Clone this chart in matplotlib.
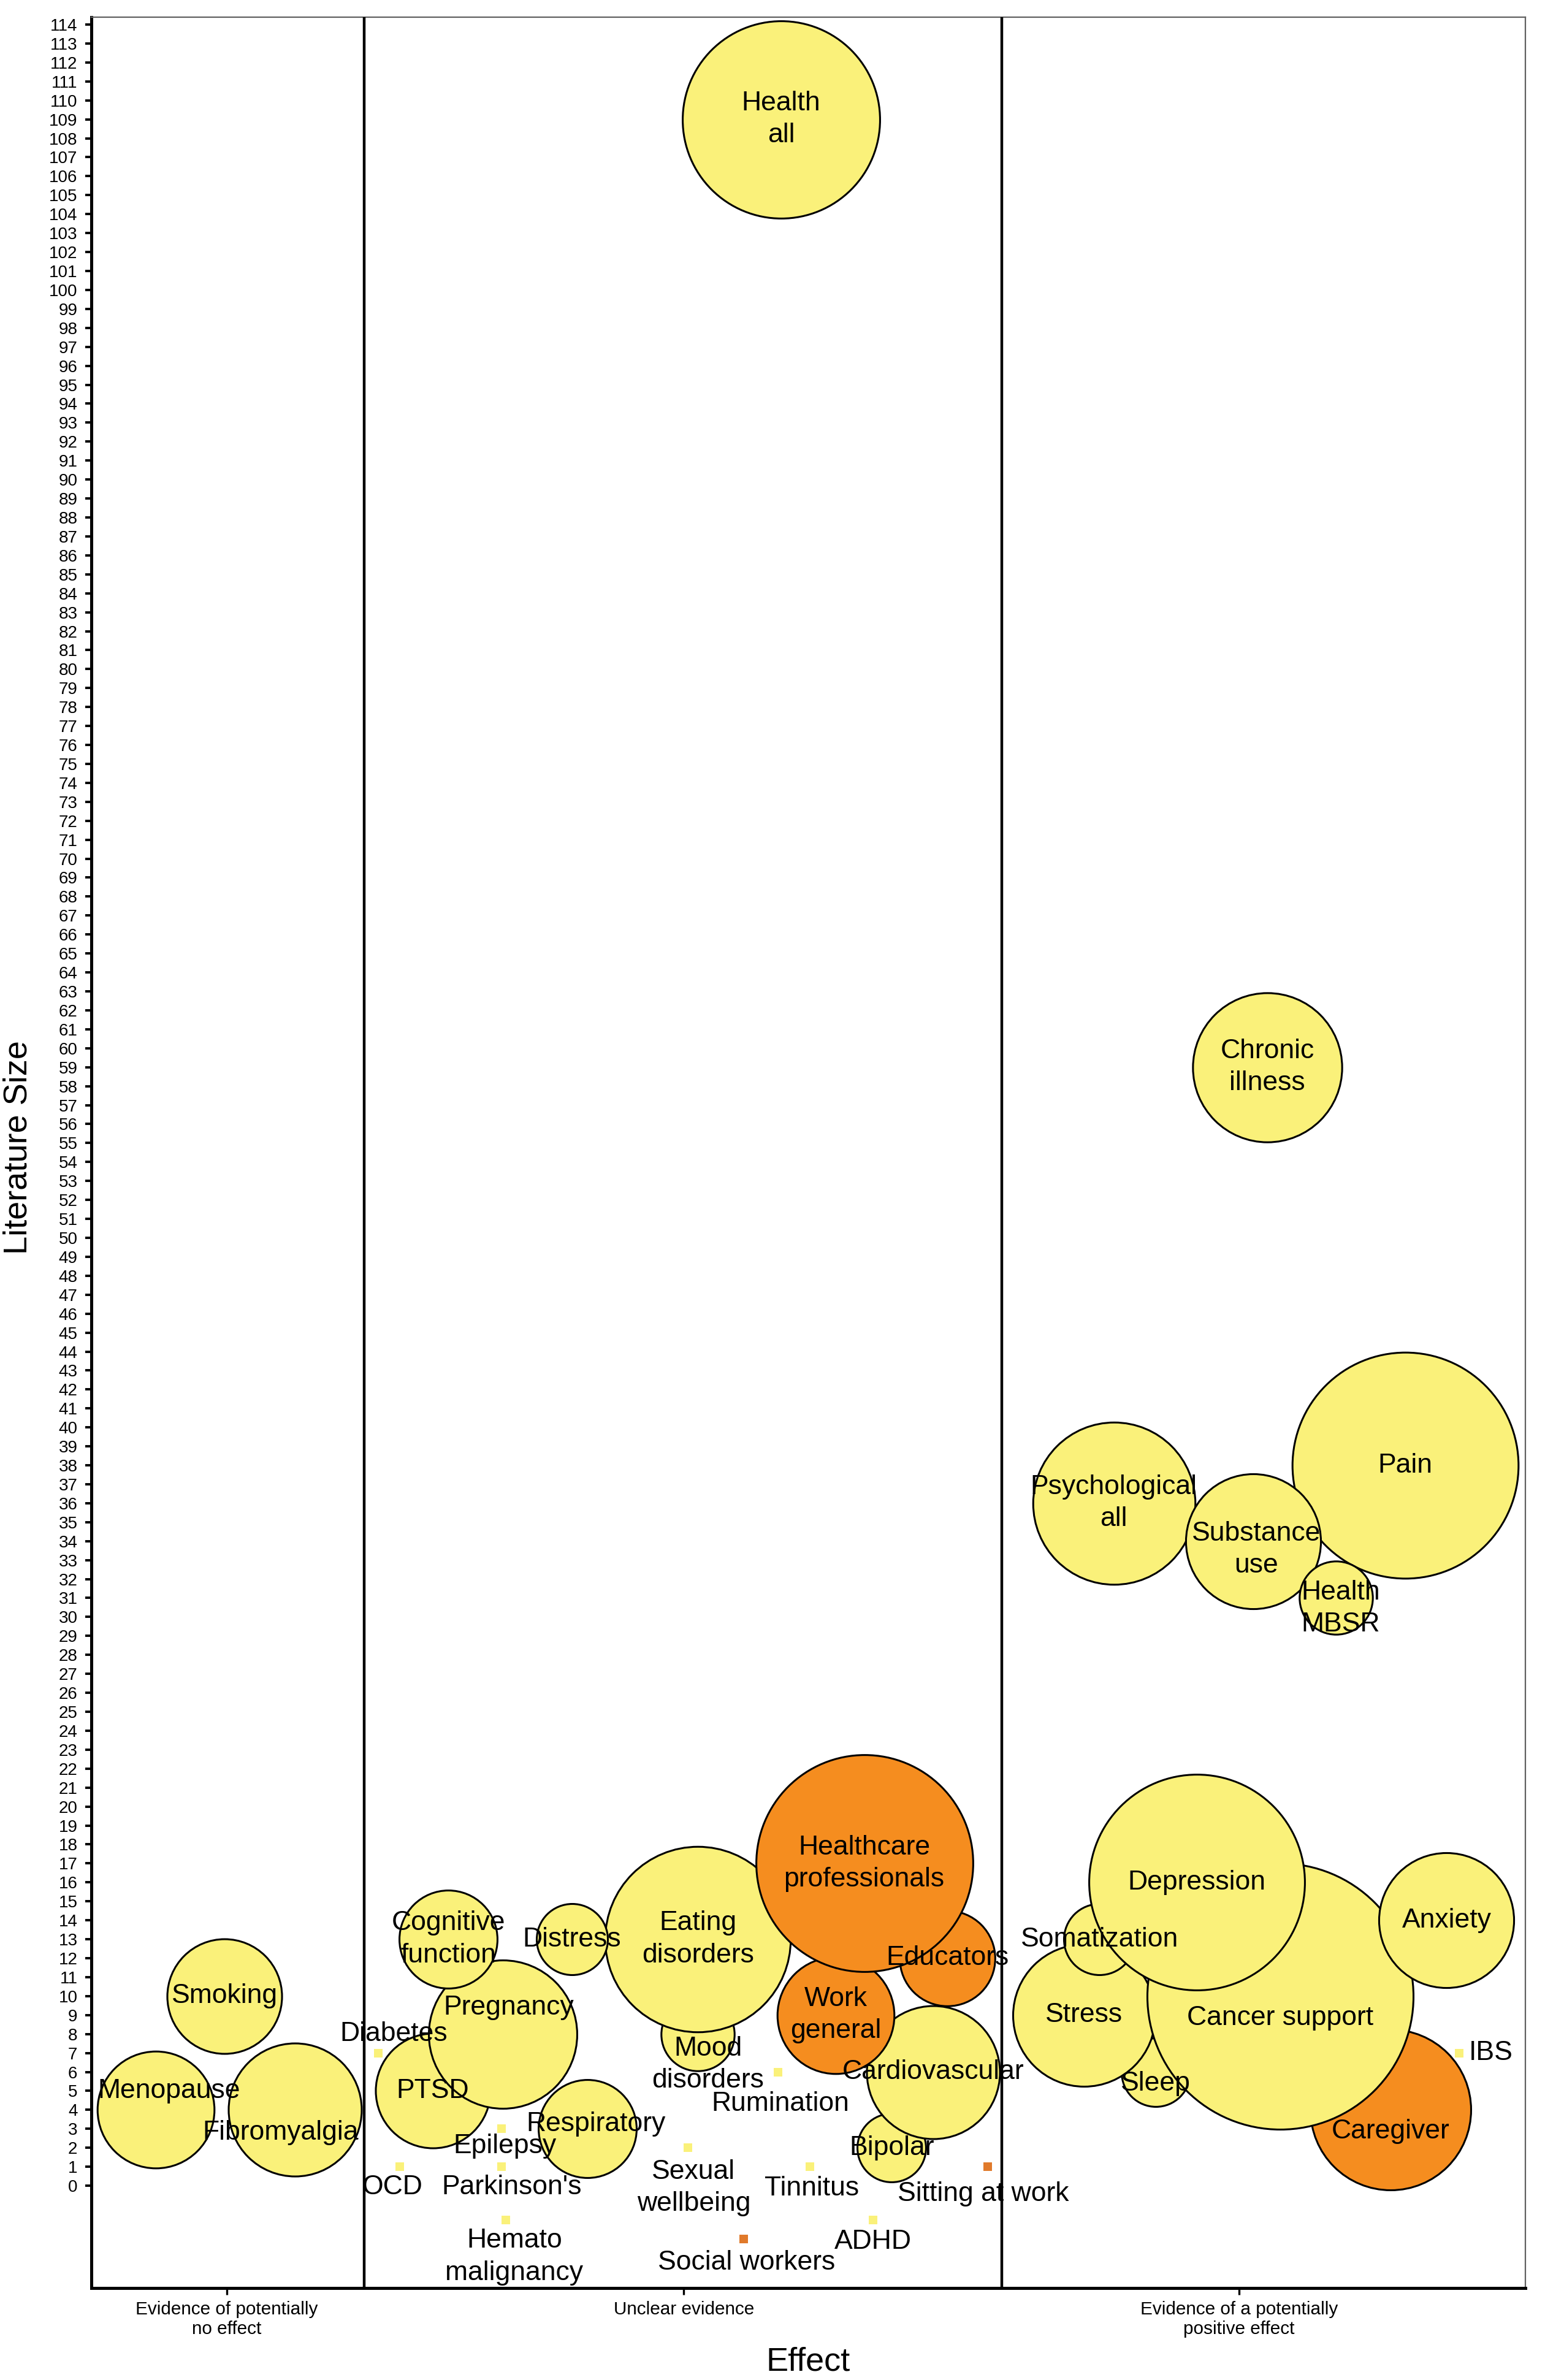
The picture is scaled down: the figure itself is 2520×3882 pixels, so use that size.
import matplotlib
matplotlib.use("Agg")
import matplotlib.pyplot as plt
import numpy as np

plt.rcParams["font.family"] = ["Liberation Sans", "DejaVu Sans"]

# ---- data (listed in drawing order) ----
names = [
    "Smoking", "Menopause", "Fibromyalgia",
    "Health\nall", "Mood\ndisorders", "Eating\ndisorders", "Educators", "Bipolar",
    "Cardiovascular", "Work\ngeneral", "Healthcare\nprofessionals", "PTSD", "Pregnancy",
    "Cognitive\nfunction", "Respiratory", "Distress",
    "Diabetes", "Epilepsy", "OCD", "Parkinson's", "Hemato\nmalignancy", "Sexual\nwellbeing",
    "Rumination", "Tinnitus", "ADHD", "Social workers", "Sitting at work",
    "Caregiver", "Sleep", "Stress", "Cancer support", "Somatization", "Depression",
    "Anxiety", "Psychological\nall", "Pain", "Substance\nuse", "Health\nMBSR",
    "Chronic\nillness", "IBS",
]
# position along the effect axis (0-100 across the three evidence bands)
effect_pos = [
    9.3, 4.5, 14.2,
    48.1, 42.3, 42.3, 59.7, 55.8,
    58.7, 51.9, 53.9, 23.8, 28.7,
    24.9, 34.6, 33.5,
    20.0, 28.6, 21.5, 28.6, 28.9, 41.6,
    47.9, 50.1, 54.5, 45.5, 62.5,
    90.6, 74.2, 69.2, 82.9, 70.3, 77.1,
    94.5, 71.3, 91.6, 81.0, 86.8,
    82.0, 95.4,
]
lit_size = [
    10, 4, 4,
    109, 8, 13, 12, 2,
    6, 9, 17, 5, 8,
    13, 3, 13,
    7, 3, 1, 1, -1.8, 2,
    6, 1, -1.8, -2.8, 1,
    4, 6, 9, 10, 13, 16,
    14, 36, 38, 34, 31,
    59, 7,
]
# relative bubble area (0 = no bubble, shown as a small square)
weight = [
    2.6, 2.7, 3.5,
    7.7, 1.06, 6.8, 1.8, 0.93,
    3.5, 2.7, 9.3, 2.6, 4.35,
    1.9, 1.9, 1.0,
    0, 0, 0, 0, 0, 0,
    0, 0, 0, 0, 0,
    5.1, 0.93, 4.0, 14.0, 1.0, 9.2,
    3.6, 5.2, 10.1, 3.6, 1.06,
    4.4, 0,
]
work_related = {"Educators", "Work\ngeneral", "Healthcare\nprofessionals",
                "Social workers", "Sitting at work", "Caregiver"}

categories = ["Evidence of potentially\nno effect", "Unclear evidence",
              "Evidence of a potentially\npositive effect"]
category_pos = [9.43, 41.31, 80.03]
band_edges = [19.03, 63.49]

# ---- layout ----
label_offset = {
    "Menopause": (0.9, 1.0), "Fibromyalgia": (-1.0, -1.2), "Pregnancy": (0.4, 1.4),
    "Mood\ndisorders": (0.7, -1.6), "Cancer support": (0, -1.15), "Caregiver": (0, -1.15),
    "Sleep": (0, -0.6), "Health\nMBSR": (0.3, -0.55), "Substance\nuse": (0.25, -0.45),
    "Respiratory": (0.6, 0.25), "Diabetes": (1.1, 1.0), "OCD": (-0.5, -1.07),
    "Parkinson's": (0.7, -1.07), "Epilepsy": (0.25, -0.9), "Hemato\nmalignancy": (0.6, -1.95),
    "Sexual\nwellbeing": (0.4, -2.1), "Rumination": (0.15, -1.67), "Tinnitus": (0.15, -1.16),
    "ADHD": (0, -1.15), "Social workers": (0.2, -1.27), "Sitting at work": (-0.3, -1.44),
    "IBS": (2.2, 0),
}
YELLOW = "#FAF17A"
ORANGE = "#F58D1F"
ORANGE_DOT = "#E07A2B"
base_r_px = 58          # radius (pixels) of a bubble with weight 1
dpi = 200

fig = plt.figure(figsize=(12.6, 19.41), dpi=dpi)
ax = fig.add_axes([0.0591, 0.03864, 0.9282, 0.95415])
ax.set_xlim(0, 100)
ax.set_ylim(-5.40, 114.39)

for i, (nm, x, y, w) in enumerate(zip(names, effect_pos, lit_size, weight)):
    work = nm in work_related
    if w > 0:
        r_pt = base_r_px * np.sqrt(w) * 72 / dpi
        ax.scatter(x, y, s=(2 * r_pt) ** 2, c=ORANGE if work else YELLOW,
                   edgecolors="black", linewidths=1.1, zorder=2 + i)
    else:
        ax.scatter(x, y, s=26, marker="s", c=ORANGE_DOT if work else YELLOW,
                   linewidths=0, zorder=1.5)
    dx, dy = label_offset.get(nm, (0, 0))
    ax.text(x + dx, y + dy, nm, ha="center", va="center", fontsize=16,
            linespacing=1.35, zorder=200)

for xb in band_edges:
    ax.axvline(xb, color="black", lw=1.6, zorder=300)

ax.set_yticks(np.arange(0, 115, 1))
ax.tick_params(axis="y", labelsize=10, length=3.6, width=1.4, pad=4.5, direction="out")
ax.set_xticks(category_pos)
ax.set_xticklabels(categories)
ax.tick_params(axis="x", labelsize=10.7, length=4, width=1.2, pad=3.5)

for side in ("left", "bottom"):
    ax.spines[side].set_linewidth(1.8)
    ax.spines[side].set_color("black")
for side in ("top", "right"):
    ax.spines[side].set_linewidth(0.8)
    ax.spines[side].set_color("#606060")

ax.set_ylabel("Literature Size", fontsize=19.5)
ax.yaxis.set_label_coords(-0.0509, 0.5024)
ax.set_xlabel("Effect", fontsize=19.5)
ax.xaxis.set_label_coords(0.5, -0.0324)
ax.xaxis.label.set_va("center")
ax.yaxis.label.set_va("center")

fig.savefig("out.png", dpi=dpi)
